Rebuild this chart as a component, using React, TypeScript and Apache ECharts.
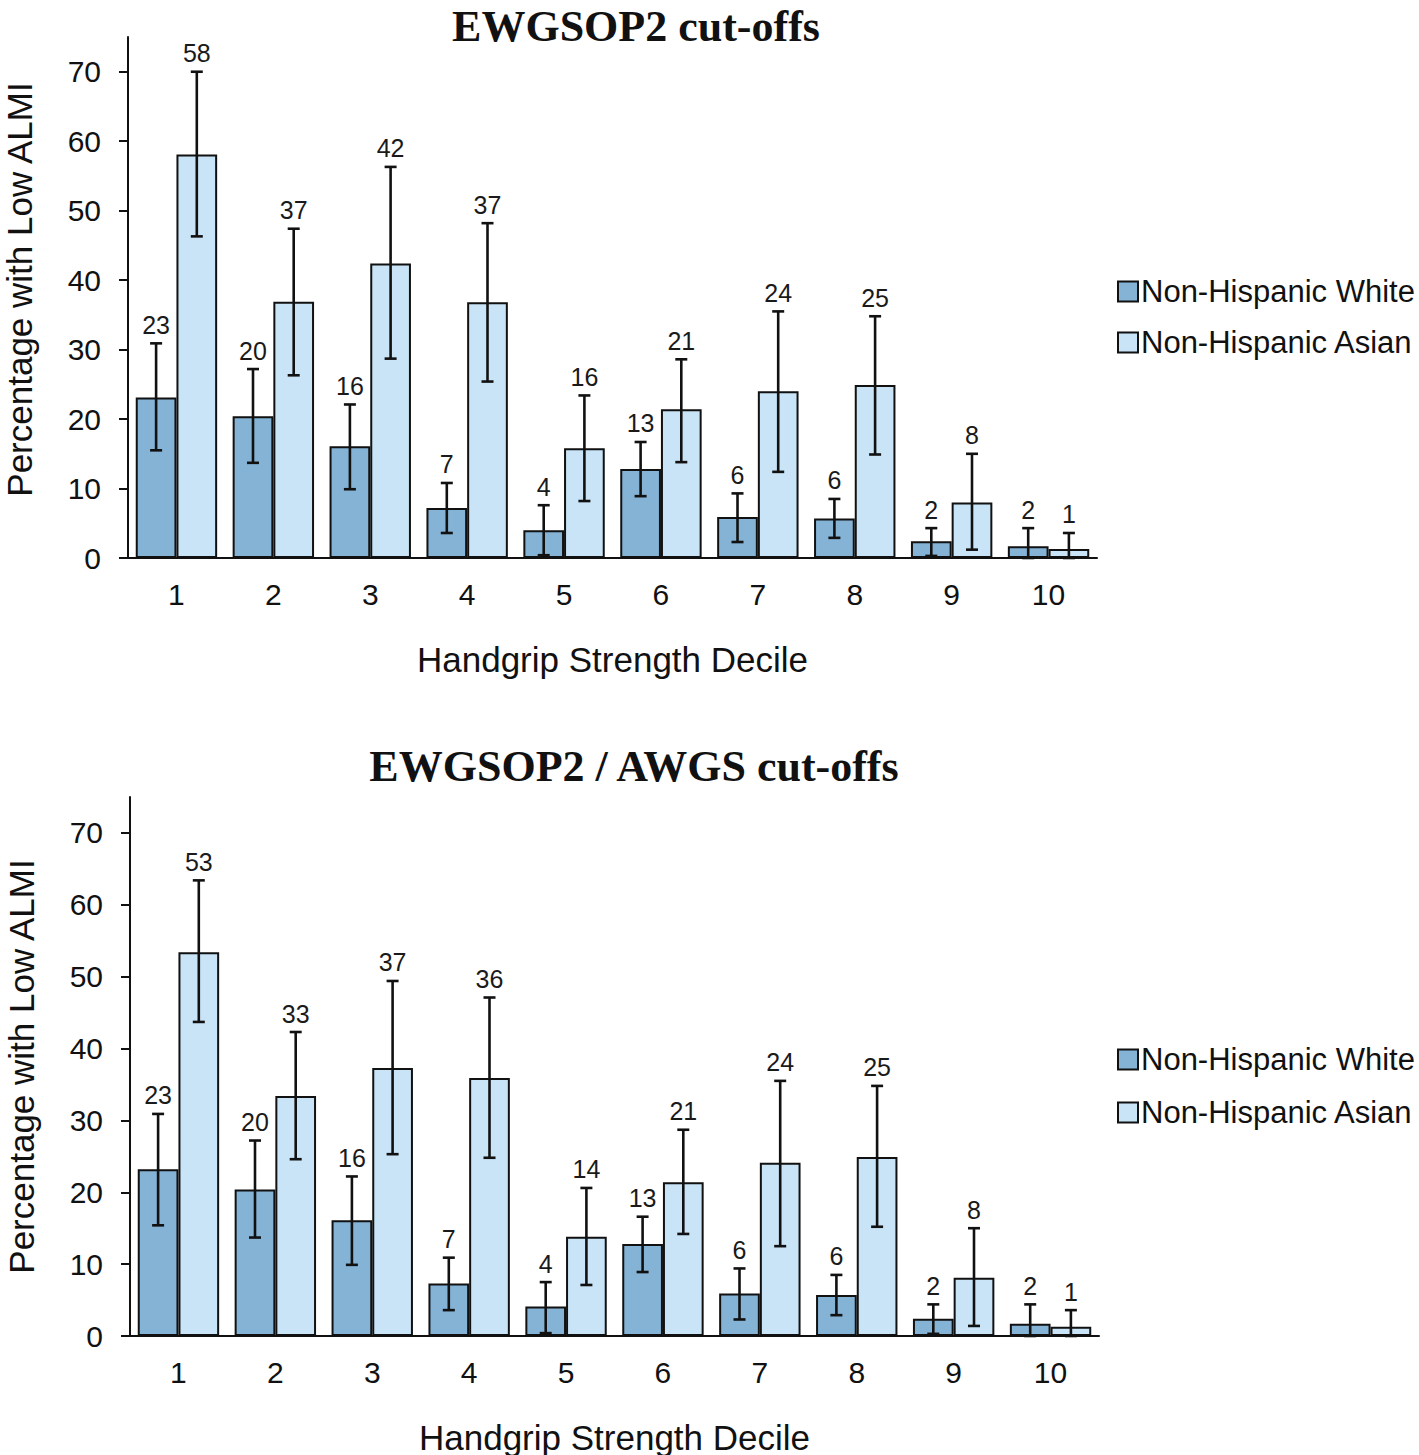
import React, { useEffect, useRef } from "react";
import * as echarts from "echarts";

const deciles = ["1", "2", "3", "4", "5", "6", "7", "8", "9", "10"];
const yTicks = [0, 10, 20, 30, 40, 50, 60, 70];

// Top panel: EWGSOP2 cut-offs
const topWhite = [23.1, 20.4, 16.1, 7.2, 4.0, 12.8, 5.9, 5.7, 2.4, 1.7];
const topWhiteLow = [15.5, 13.7, 9.9, 3.6, 0.4, 8.9, 2.3, 2.9, 0.3, 0.0];
const topWhiteHigh = [30.9, 27.2, 22.1, 10.8, 7.6, 16.7, 9.3, 8.5, 4.3, 4.3];
const topAsian = [58.1, 36.9, 42.4, 36.8, 15.8, 21.4, 24.0, 24.9, 8.0, 1.3];
const topAsianLow = [46.3, 26.3, 28.7, 25.4, 8.2, 13.8, 12.4, 14.9, 1.2, 0.0];
const topAsianHigh = [70.0, 47.4, 56.3, 48.2, 23.4, 28.6, 35.5, 34.8, 15.0, 3.6];

// Bottom panel: EWGSOP2 / AWGS cut-offs
const botWhite = [23.2, 20.4, 16.1, 7.3, 4.1, 12.8, 5.9, 5.7, 2.4, 1.7];
const botWhiteLow = [15.4, 13.7, 9.9, 3.6, 0.4, 8.9, 2.3, 2.9, 0.3, 0.0];
const botWhiteHigh = [30.9, 27.2, 22.2, 10.9, 7.5, 16.6, 9.4, 8.5, 4.4, 4.4];
const botAsian = [53.4, 33.4, 37.3, 35.9, 13.8, 21.4, 24.1, 24.9, 8.1, 1.3];
const botAsianLow = [43.7, 24.6, 25.3, 24.8, 7.1, 14.2, 12.5, 15.2, 1.4, 0.0];
const botAsianHigh = [63.4, 42.3, 49.4, 47.1, 20.6, 28.7, 35.5, 34.8, 15.0, 3.6];

const WHITE = "Non-Hispanic White";
const ASIAN = "Non-Hispanic Asian";
const WHITE_COLOR = "#84b3d6";
const ASIAN_COLOR = "#c9e4f7";
const SANS = "'Liberation Sans', Arial, sans-serif";
const SERIF = "'Liberation Serif', 'Times New Roman', serif";
const CAT_GAP = 0.16;

function errorSeries(
  vals: number[],
  lows: number[],
  highs: number[],
  sign: number,
  axisIndex: number
) {
  return {
    type: "custom",
    xAxisIndex: axisIndex,
    yAxisIndex: axisIndex,
    z: 10,
    silent: true,
    data: vals.map((v, i) => [i, lows[i], highs[i], v]),
    renderItem: (params: any, api: any) => {
      const i = api.value(0);
      const lo = api.value(1);
      const hi = api.value(2);
      const v = api.value(3);
      const band = api.size([1, 0])[0];
      const off = (sign * band * (1 - CAT_GAP)) / 4;
      const pTop = api.coord([i, hi]);
      const pBot = api.coord([i, lo]);
      const x = pTop[0] + off;
      const cap = 6;
      const ls = { stroke: "#111", lineWidth: 2.6 };
      return {
        type: "group",
        children: [
          { type: "line", shape: { x1: x, y1: pTop[1], x2: x, y2: pBot[1] }, style: ls },
          { type: "line", shape: { x1: x - cap, y1: pTop[1], x2: x + cap, y2: pTop[1] }, style: ls },
          { type: "line", shape: { x1: x - cap, y1: pBot[1], x2: x + cap, y2: pBot[1] }, style: ls },
          {
            type: "text",
            style: {
              text: String(Math.round(v)),
              x: x,
              y: pTop[1] - 6,
              align: "center",
              verticalAlign: "bottom",
              fontSize: 25,
              fontFamily: SANS,
              fill: "#1a1a1a",
            },
          },
        ],
      };
    },
  };
}

function barSeries(name: string, data: number[], color: string, axisIndex: number) {
  return {
    type: "bar",
    name,
    xAxisIndex: axisIndex,
    yAxisIndex: axisIndex,
    data,
    barGap: "0%",
    barCategoryGap: `${CAT_GAP * 100}%`,
    itemStyle: { color, borderColor: "#111", borderWidth: 2 },
  };
}

function xAxis(gridIndex: number) {
  return {
    type: "category",
    gridIndex,
    data: deciles,
    name: "Handgrip Strength Decile",
    nameLocation: "middle",
    nameGap: 87,
    nameTextStyle: { fontSize: 35, lineHeight: 28, fontFamily: SANS, color: "#111" },
    axisLine: { lineStyle: { color: "#111", width: 2 } },
    axisTick: { alignWithLabel: true, length: 6, lineStyle: { color: "#111", width: 2 } },
    axisLabel: { fontSize: 30, fontFamily: SANS, color: "#111", margin: 21 },
    splitLine: { show: false },
  };
}

function yAxis(gridIndex: number, shiftUp: number) {
  return {
    type: "value",
    gridIndex,
    min: 0,
    max: 75,
    interval: 10,
    name: "Percentage with Low ALMI",
    nameLocation: "middle",
    nameGap: 91,
    nameTextStyle: {
      fontSize: 35,
      fontFamily: SANS,
      color: "#111",
      padding: [0, 0, 0, shiftUp * 2],
    },
    axisLine: { show: true, lineStyle: { color: "#111", width: 2 } },
    axisTick: { show: true, length: 9, customValues: yTicks, lineStyle: { color: "#111", width: 2 } },
    axisLabel: { fontSize: 30, fontFamily: SANS, color: "#111", margin: 27, customValues: yTicks },
    splitLine: { show: false },
  };
}

function legend(top: number, gap: number) {
  return {
    orient: "vertical",
    left: 1112,
    top,
    itemWidth: 20,
    itemHeight: 20,
    itemGap: gap,
    icon: "rect",
    data: [WHITE, ASIAN],
    textStyle: { fontSize: 31, fontFamily: SANS, color: "#111", padding: [0, 0, 0, -2] },
  };
}

export default function App() {
  const ref = useRef<HTMLDivElement>(null);
  useEffect(() => {
    if (!ref.current) return;
    const chart = echarts.init(ref.current, null, { renderer: "svg" });
    chart.setOption({
      animation: false,
      backgroundColor: "#ffffff",
      graphic: [
        {
          type: "text",
          x: 636,
          y: 26,
          style: {
            text: "EWGSOP2 cut-offs",
            align: "center",
            verticalAlign: "middle",
            lineHeight: 30,
            fontSize: 44,
            fontWeight: "bold",
            fontFamily: SERIF,
            fill: "#111",
          },
        },
        {
          type: "text",
          x: 634,
          y: 766,
          style: {
            text: "EWGSOP2 / AWGS cut-offs",
            align: "center",
            verticalAlign: "middle",
            lineHeight: 30,
            fontSize: 44,
            fontWeight: "bold",
            fontFamily: SERIF,
            fill: "#111",
          },
        },
      ],
      legend: [legend(271, 20), legend(1039, 22)],
      grid: [
        { left: 128, top: 37, width: 969, height: 521, outerBoundsMode: "none", containLabel: false },
        { left: 130, top: 797, width: 969, height: 539, outerBoundsMode: "none", containLabel: false },
      ],
      xAxis: [xAxis(0), xAxis(1)],
      yAxis: [yAxis(0, 8), yAxis(1, 0)],
      series: [
        barSeries(WHITE, topWhite, WHITE_COLOR, 0),
        barSeries(ASIAN, topAsian, ASIAN_COLOR, 0),
        errorSeries(topWhite, topWhiteLow, topWhiteHigh, -1, 0),
        errorSeries(topAsian, topAsianLow, topAsianHigh, 1, 0),
        barSeries(WHITE, botWhite, WHITE_COLOR, 1),
        barSeries(ASIAN, botAsian, ASIAN_COLOR, 1),
        errorSeries(botWhite, botWhiteLow, botWhiteHigh, -1, 1),
        errorSeries(botAsian, botAsianLow, botAsianHigh, 1, 1),
      ],
    });
    return () => chart.dispose();
  }, []);
  return (
    <div
      ref={ref}
      style={{ position: "absolute", left: 0, top: 0, width: 1419, height: 1455 }}
    />
  );
}
